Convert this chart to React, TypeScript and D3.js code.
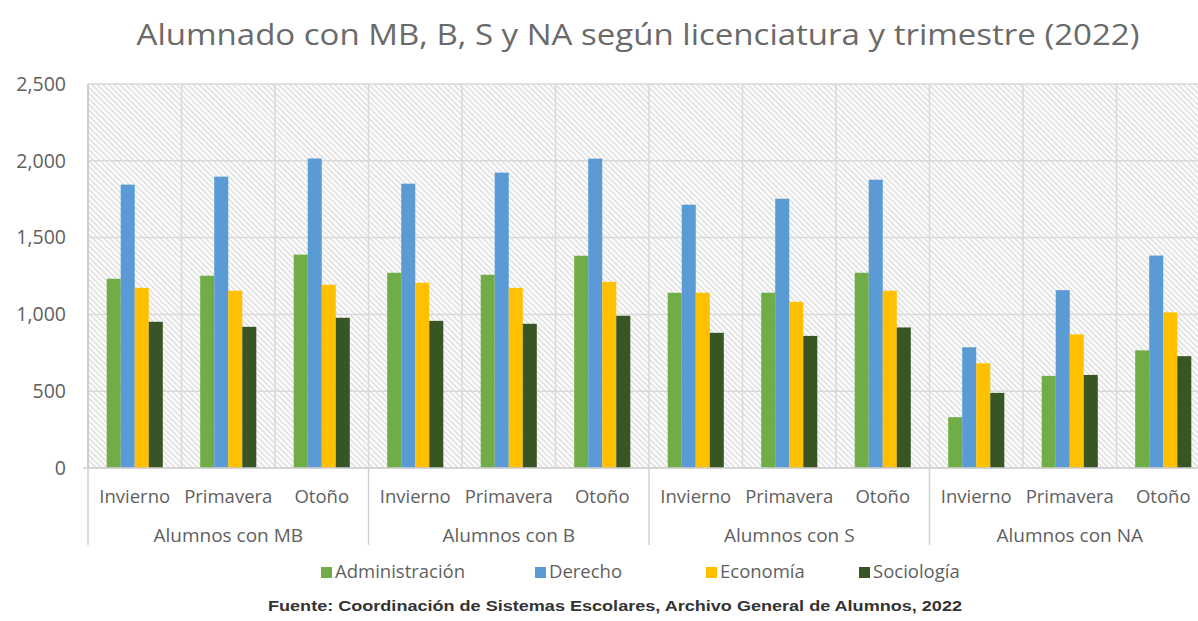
import React from "react";
import * as d3 from "d3";

const trimestres = ["Invierno", "Primavera", "Otoño"];
const grupos = ["Alumnos con MB", "Alumnos con B", "Alumnos con S", "Alumnos con NA"];
const series = ["Administración", "Derecho", "Economía", "Sociología"];
const administracion = [1232, 1252, 1389, 1271, 1258, 1382, 1141, 1141, 1271, 331, 600, 766];
const derecho = [1845, 1897, 2015, 1851, 1923, 2014, 1714, 1753, 1877, 786, 1158, 1383];
const economia = [1173, 1154, 1193, 1206, 1173, 1212, 1141, 1082, 1154, 682, 870, 1013];
const sociologia = [952, 919, 978, 958, 939, 991, 880, 860, 915, 489, 606, 728];
const yTicks = [0, 500, 1000, 1500, 2000, 2500];
const title = "Alumnado con MB, B, S y NA según licenciatura y trimestre (2022)";
const source = "Fuente: Coordinación de Sistemas Escolares, Archivo General de Alumnos, 2022";

const colors = ["#70AD47", "#5B9BD5", "#FFC000", "#375623"];
const values = [administracion, derecho, economia, sociologia];

export default function App() {
  const W = 1198, H = 621;
  const left = 88, right = 1210, top = 84, bottom = 468;
  const cats = grupos.flatMap((g) => trimestres.map((t) => g + "|" + t));
  const x = d3.scaleBand().domain(cats).range([left, right]).padding(0);
  const bw = x.bandwidth();
  const xs = d3.scaleBand().domain(series).range([bw * 0.2, bw * 0.8]).padding(0);
  const y = d3.scaleLinear().domain([0, 2500]).range([bottom, top]);
  const fmt = d3.format(",");
  const font = "'Open Sans', sans-serif";
  const txt = "#5f5f5f";
  const legendX = [321, 535, 706, 859];
  const grpBounds = d3.range(grupos.length + 1).map((i) => left + i * 3 * bw);

  return (
    <div style={{ position: "absolute", left: 0, top: 0 }}>
      <svg width={W} height={H} style={{ display: "block", background: "#fff" }}>
        <defs>
          <pattern id="hatch" patternUnits="userSpaceOnUse" width={4} height={4} patternTransform="rotate(-45)">
            <rect width={4} height={4} fill="#ffffff" />
            <line x1={1} y1={0} x2={1} y2={4} stroke="#d6d6d6" strokeWidth={1.3} />
          </pattern>
        </defs>
        <text x={638} y={45} textAnchor="middle" fontFamily={font} fontSize={29} fill="#6a6a6a" textLength={1003} lengthAdjust="spacingAndGlyphs">
          {title}
        </text>
        <rect x={left} y={top} width={right - left} height={bottom - top} fill="url(#hatch)" />
        {yTicks.map((t) => (
          <g key={t}>
            <line x1={left} x2={right} y1={y(t)} y2={y(t)} stroke="#d9d9d9" strokeWidth={1.5} />
            <text x={66} y={y(t)} dy="0.35em" textAnchor="end" fontFamily={font} fontSize={19.5} fill={txt}>
              {fmt(t)}
            </text>
          </g>
        ))}
        {cats.map((c) => (
          <line key={c} x1={x(c)!} x2={x(c)!} y1={top} y2={bottom} stroke="#d9d9d9" strokeWidth={1.5} />
        ))}
        <line x1={left} x2={left} y1={top} y2={bottom} stroke="#c8c8c8" strokeWidth={1.5} />
        {cats.map((c, i) =>
          series.map((s, k) => (
            <rect
              key={c + s}
              x={x(c)! + xs(s)!}
              y={y(values[k][i])}
              width={xs.bandwidth()}
              height={bottom - y(values[k][i])}
              fill={colors[k]}
            />
          ))
        )}
        <line x1={left - 5} x2={right} y1={bottom} y2={bottom} stroke="#d0d0d0" strokeWidth={1.5} />
        {grpBounds.map((b, i) => (
          <line key={i} x1={b} x2={b} y1={bottom} y2={545} stroke="#d0d0d0" strokeWidth={1.5} />
        ))}
        {cats.map((c, i) => (
          <text key={c} x={x(c)! + bw / 2} y={497} dy="0.35em" textAnchor="middle" fontFamily={font} fontSize={18.5} fill={txt}>
            {trimestres[i % 3]}
          </text>
        ))}
        {grupos.map((g, i) => (
          <text key={g} x={(grpBounds[i] + grpBounds[i + 1]) / 2} y={535} dy="0.35em" textAnchor="middle" fontFamily={font} fontSize={19} fill={txt}>
            {g}
          </text>
        ))}
        {series.map((s, k) => (
          <g key={s} transform={`translate(${legendX[k]},572)`}>
            <rect x={0} y={-5} width={11} height={11} fill={colors[k]} />
            <text x={14} y={0} dy="0.35em" fontFamily={font} fontSize={18.5} fill={txt}>
              {s}
            </text>
          </g>
        ))}
        <text x={615} y={606} dy="0.35em" textAnchor="middle" fontFamily="'Liberation Sans', Arial, sans-serif" fontWeight={700} fontSize={14} fill="#333333" textLength={694} lengthAdjust="spacingAndGlyphs">
          {source}
        </text>
      </svg>
    </div>
  );
}
